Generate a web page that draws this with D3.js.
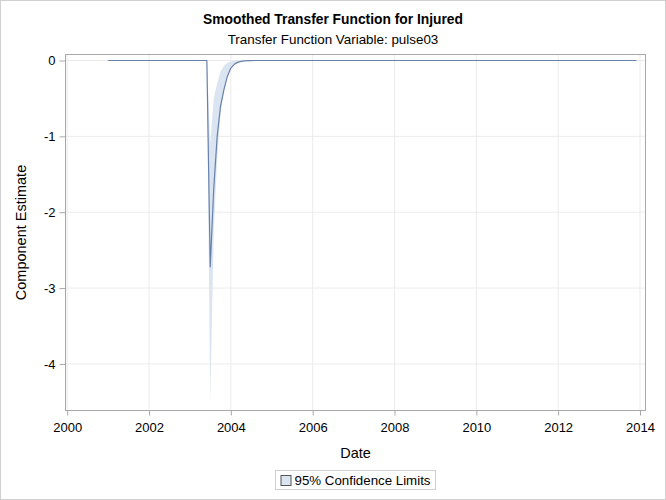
<!DOCTYPE html>
<html>
<head>
<meta charset="utf-8">
<script src="https://cdn.jsdelivr.net/npm/d3@7"></script>
<style>
  body { margin: 0; background: #fff; }
  svg { display: block; font-family: "Liberation Sans", Arial, sans-serif; }
</style>
</head>
<body>
<svg id="chart" width="666" height="500"></svg>
<script>
// 月度数据：2001-01 到 2013-12，每行一年
const estimate = [
  0, 0, 0, 0, 0, 0, 0, 0, 0, 0, 0, 0,                                   // 2001
  0, 0, 0, 0, 0, 0, 0, 0, 0, 0, 0, 0,                                   // 2002
  0, 0, 0, 0, 0, 0, -2.72, -1.70, -1.00, -0.60, -0.38, -0.21,           // 2003
  -0.10, -0.05, -0.025, -0.012, -0.006, -0.003, -0.001, 0, 0, 0, 0, 0,  // 2004
  0, 0, 0, 0, 0, 0, 0, 0, 0, 0, 0, 0,                                   // 2005
  0, 0, 0, 0, 0, 0, 0, 0, 0, 0, 0, 0,                                   // 2006
  0, 0, 0, 0, 0, 0, 0, 0, 0, 0, 0, 0,                                   // 2007
  0, 0, 0, 0, 0, 0, 0, 0, 0, 0, 0, 0,                                   // 2008
  0, 0, 0, 0, 0, 0, 0, 0, 0, 0, 0, 0,                                   // 2009
  0, 0, 0, 0, 0, 0, 0, 0, 0, 0, 0, 0,                                   // 2010
  0, 0, 0, 0, 0, 0, 0, 0, 0, 0, 0, 0,                                   // 2011
  0, 0, 0, 0, 0, 0, 0, 0, 0, 0, 0, 0,                                   // 2012
  0, 0, 0, 0, 0, 0, 0, 0, 0, 0, 0, 0                                    // 2013
];

const upper = [
  0, 0, 0, 0, 0, 0, 0, 0, 0, 0, 0, 0,
  0, 0, 0, 0, 0, 0, 0, 0, 0, 0, 0, 0,
  0, 0, 0, 0, 0, 0, -1.10, -0.50, -0.30, -0.15, -0.07, -0.03,
  -0.012, -0.005, -0.002, 0, 0, 0, 0, 0, 0, 0, 0, 0,
  0, 0, 0, 0, 0, 0, 0, 0, 0, 0, 0, 0,
  0, 0, 0, 0, 0, 0, 0, 0, 0, 0, 0, 0,
  0, 0, 0, 0, 0, 0, 0, 0, 0, 0, 0, 0,
  0, 0, 0, 0, 0, 0, 0, 0, 0, 0, 0, 0,
  0, 0, 0, 0, 0, 0, 0, 0, 0, 0, 0, 0,
  0, 0, 0, 0, 0, 0, 0, 0, 0, 0, 0, 0,
  0, 0, 0, 0, 0, 0, 0, 0, 0, 0, 0, 0,
  0, 0, 0, 0, 0, 0, 0, 0, 0, 0, 0, 0,
  0, 0, 0, 0, 0, 0, 0, 0, 0, 0, 0, 0
];

const lower = [
  0, 0, 0, 0, 0, 0, 0, 0, 0, 0, 0, 0,
  0, 0, 0, 0, 0, 0, 0, 0, 0, 0, 0, 0,
  0, 0, 0, 0, 0, 0, -4.52, -2.30, -1.30, -0.70, -0.40, -0.20,
  -0.10, -0.05, -0.025, -0.012, -0.006, -0.003, -0.001, 0, 0, 0, 0, 0,
  0, 0, 0, 0, 0, 0, 0, 0, 0, 0, 0, 0,
  0, 0, 0, 0, 0, 0, 0, 0, 0, 0, 0, 0,
  0, 0, 0, 0, 0, 0, 0, 0, 0, 0, 0, 0,
  0, 0, 0, 0, 0, 0, 0, 0, 0, 0, 0, 0,
  0, 0, 0, 0, 0, 0, 0, 0, 0, 0, 0, 0,
  0, 0, 0, 0, 0, 0, 0, 0, 0, 0, 0, 0,
  0, 0, 0, 0, 0, 0, 0, 0, 0, 0, 0, 0,
  0, 0, 0, 0, 0, 0, 0, 0, 0, 0, 0, 0,
  0, 0, 0, 0, 0, 0, 0, 0, 0, 0, 0, 0
];

const yearTicks = [2000, 2002, 2004, 2006, 2008, 2010, 2012, 2014];
const yTicks = [0, -1, -2, -3, -4];

const dates = d3.timeMonth.range(new Date(2001, 0, 1), new Date(2014, 0, 1));
const data = dates.map((d, i) => ({ date: d, est: estimate[i], lo: lower[i], hi: upper[i] }));

const svg = d3.select("#chart");
const W = 666, H = 500;
const plotL = 65.5, plotR = 645.5, plotT = 54.5, plotB = 410.5;
const midX = (plotL + plotR) / 2;

// 外框
svg.append("rect")
  .attr("x", 0.5).attr("y", 0.5)
  .attr("width", W - 1).attr("height", H - 1)
  .attr("fill", "#fff")
  .attr("stroke", "#d0d0d0");

const x = d3.scaleTime()
  .domain([new Date(1999, 11, 17), new Date(2014, 1, 19)])
  .range([plotL, plotR]);

const y = d3.scaleLinear()
  .domain([-4.614, 0.079])
  .range([plotB, plotT]);

// 网格线
const grid = svg.append("g");
grid.selectAll("line.gx")
  .data(yearTicks)
  .join("line")
  .attr("class", "gx")
  .attr("x1", d => x(new Date(d, 0, 1))).attr("x2", d => x(new Date(d, 0, 1)))
  .attr("y1", plotT).attr("y2", plotB)
  .attr("stroke", "#ebebeb");
grid.selectAll("line.gy")
  .data(yTicks)
  .join("line")
  .attr("class", "gy")
  .attr("x1", plotL).attr("x2", plotR)
  .attr("y1", d => y(d)).attr("y2", d => y(d))
  .attr("stroke", "#ebebeb");

// 置信带
svg.append("path")
  .datum(data)
  .attr("fill", "#dbe5f1")
  .attr("d", d3.area()
    .x(d => x(d.date))
    .y0(d => y(d.lo))
    .y1(d => y(d.hi)));

// 估计线
svg.append("path")
  .datum(data)
  .attr("fill", "none")
  .attr("stroke", "#6881ab")
  .attr("stroke-width", 1.2)
  .attr("stroke-linejoin", "round")
  .attr("d", d3.line()
    .x(d => x(d.date))
    .y(d => y(d.est)));

// 绘图区边框
svg.append("rect")
  .attr("x", plotL).attr("y", plotT)
  .attr("width", plotR - plotL).attr("height", plotB - plotT)
  .attr("fill", "none")
  .attr("stroke", "#a8a8a8");

// 坐标轴
const xAxis = svg.append("g")
  .attr("transform", `translate(0,${plotB})`)
  .call(d3.axisBottom(x)
    .tickValues(yearTicks.map(d => new Date(d, 0, 1)))
    .tickFormat(d3.timeFormat("%Y"))
    .tickSize(5).tickPadding(7));

const yAxis = svg.append("g")
  .attr("transform", `translate(${plotL},0)`)
  .call(d3.axisLeft(y)
    .tickValues(yTicks)
    .tickFormat(d => String(d))
    .tickSize(6).tickPadding(4));

[xAxis, yAxis].forEach(g => {
  g.select(".domain").remove();
  g.selectAll(".tick line").attr("stroke", "#a8a8a8");
  g.selectAll(".tick text")
    .attr("fill", "#000")
    .style("font-family", "Liberation Sans, Arial, sans-serif")
    .style("font-size", "13px");
});

// 标题
svg.append("text")
  .attr("x", W / 2).attr("y", 24)
  .attr("text-anchor", "middle")
  .style("font-weight", "bold")
  .style("font-size", "13.8px")
  .text("Smoothed Transfer Function for Injured");

svg.append("text")
  .attr("x", W / 2).attr("y", 44)
  .attr("text-anchor", "middle")
  .style("font-size", "13.4px")
  .text("Transfer Function Variable: pulse03");

// 轴标题
svg.append("text")
  .attr("x", midX).attr("y", 458)
  .attr("text-anchor", "middle")
  .style("font-size", "14.5px")
  .text("Date");

svg.append("text")
  .attr("transform", `translate(26,${(plotT + plotB) / 2}) rotate(-90)`)
  .attr("text-anchor", "middle")
  .style("font-size", "14.5px")
  .text("Component Estimate");

// 图例
const legend = svg.append("g");
const legendText = legend.append("text")
  .attr("y", 484.5)
  .style("font-size", "13.3px")
  .text("95% Confidence Limits");
const tw = legendText.node().getComputedTextLength();
const lw = tw + 24;
const lx = midX - lw / 2;
legend.insert("rect", "text")
  .attr("x", lx).attr("y", 470.5)
  .attr("width", lw).attr("height", 19)
  .attr("fill", "#fff")
  .attr("stroke", "#d0d0d0");
legendText.attr("x", lx + 19);
legend.append("rect")
  .attr("x", lx + 5.5).attr("y", 475.5)
  .attr("width", 10).attr("height", 10)
  .attr("fill", "#dbe5f1")
  .attr("stroke", "#555");
</script>
</body>
</html>
